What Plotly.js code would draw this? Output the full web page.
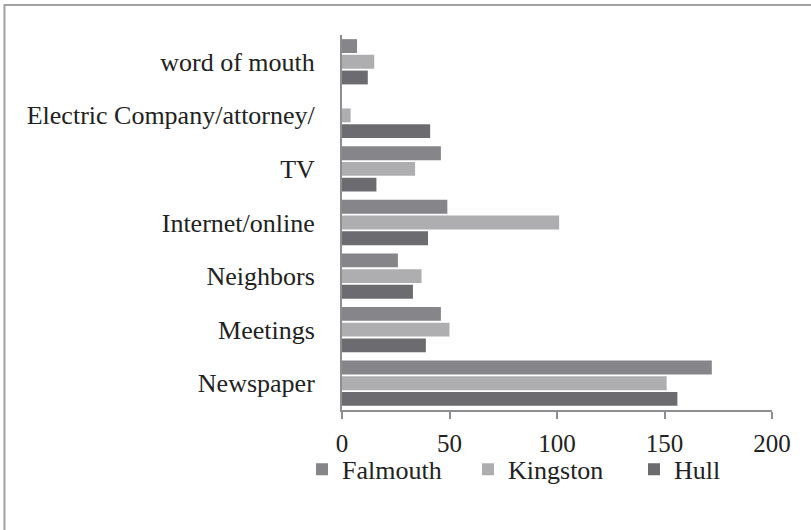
<!DOCTYPE html>
<html>
<head>
<meta charset="utf-8">
<script src="https://cdn.plot.ly/plotly-3.0.1.min.js"></script>
<style>
  html, body { margin: 0; padding: 0; background: #fff; }
  #chart { width: 811px; height: 530px; }
  #chart .legendtext { font-family: 'Liberation Serif', 'Times New Roman', serif !important; }
</style>
</head>
<body>
<div id="chart"></div>
<script>
// Categories listed bottom-to-top (Plotly category axis goes upward)
const categories = ["Newspaper", "Meetings", "Neighbors", "Internet/online", "TV", "Electric Company/attorney/", "word of mouth"];
const falmouth = [172, 46, 26, 49, 46, 0, 7];
const kingston = [151, 50, 37, 101, 34, 4, 15];
const hull     = [156, 39, 33, 40, 16, 41, 12];
const xTicks   = [0, 50, 100, 150, 200];

const serif = "Liberation Serif";

const traces = [
  { name: "Hull", type: "bar", orientation: "h", y: categories, x: hull,
    marker: { color: "#6c6c70" } },
  { name: "Kingston", type: "bar", orientation: "h", y: categories, x: kingston,
    marker: { color: "#aeaeb1" } },
  { name: "Falmouth", type: "bar", orientation: "h", y: categories, x: falmouth,
    marker: { color: "#85858a" } }
];

const layout = {
  width: 811, height: 530,
  margin: { l: 342, r: 39, t: 35, b: 120 },
  paper_bgcolor: "#fff", plot_bgcolor: "#fff",
  barmode: "group", bargap: 0.12, bargroupgap: 0.12,
  showlegend: true,
  font: { family: serif, size: 26, color: "#222" },
  xaxis: {
    range: [0, 200], tickvals: xTicks, ticktext: xTicks.map(String),
    showgrid: false, zeroline: false,
    showline: true, linecolor: "#8e8e92", linewidth: 2,
    ticks: "outside", ticklen: 7, tickwidth: 2, tickcolor: "#8e8e92",
    ticklabelstandoff: 3,
    tickfont: { family: serif, size: 25, color: "#222" }
  },
  yaxis: {
    type: "category", categoryorder: "array", categoryarray: categories,
    showgrid: false, zeroline: false,
    showline: true, linecolor: "#8e8e92", linewidth: 2,
    ticks: "", ticklabelstandoff: 20,
    tickfont: { family: serif, size: 26, color: "#222" }
  },
  legend: {
    orientation: "h", traceorder: "reversed",
    x: -0.093, xanchor: "left", y: -0.158, yanchor: "middle",
    bgcolor: "rgba(0,0,0,0)",
    font: { family: serif, size: 26, color: "#222" },
    itemwidth: 30, entrywidth: 121
  },
  shapes: [{
    type: "rect", xref: "paper", yref: "paper",
    x0: -0.785, x1: 1.3, y0: -0.6, y1: 1.08,
    line: { color: "#a2a2a6", width: 2 }, fillcolor: "rgba(0,0,0,0)", layer: "below"
  }]
};

Plotly.newPlot("chart", traces, layout, { displayModeBar: false, staticPlot: true });
</script>
</body>
</html>
